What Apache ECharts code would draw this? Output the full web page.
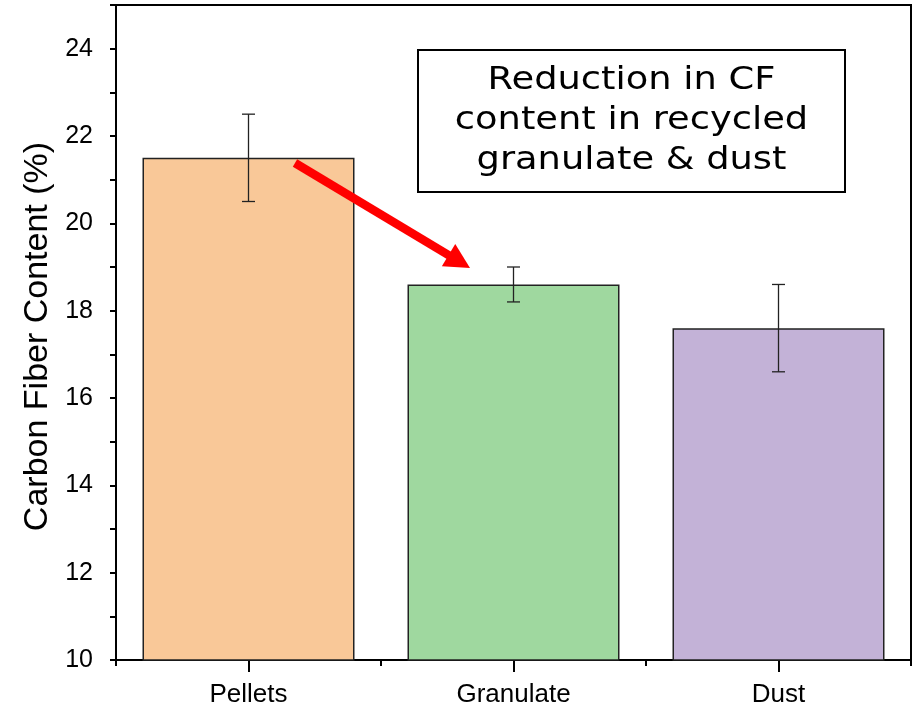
<!DOCTYPE html>
<html>
<head>
<meta charset="utf-8">
<script src="https://cdn.jsdelivr.net/npm/echarts@6/dist/echarts.min.js"></script>
<style>
  html, body { margin: 0; padding: 0; background: #fff; }
  #chart { width: 916px; height: 711px; }
</style>
</head>
<body>
<div id="chart"></div>
<script>
// Sample categories and measured carbon fiber content
const categories = ['Pellets', 'Granulate', 'Dust'];
const meanValues = [21.5, 18.6, 17.6];
const errLow = [20.5, 18.2, 16.6];
const errHigh = [22.5, 19.0, 18.6];
const barColors = ['#F9C898', '#9FD89F', '#C3B2D7'];
const yTicks = [10, 12, 14, 16, 18, 20, 22, 24];

const FONT = '"Liberation Sans", Arial, sans-serif';
const chart = echarts.init(document.getElementById('chart'), null, { renderer: 'canvas' });

const grid = { left: 116, top: 5, right: 5, bottom: 51 };

// Red arrow from the Pellets bar towards the Granulate bar
function arrowGraphics() {
  const x0 = 295, y0 = 163, x1 = 470, y1 = 268;
  const dx = x1 - x0, dy = y1 - y0, len = Math.hypot(dx, dy);
  const ux = dx / len, uy = dy / len, px = -uy, py = ux;
  const headLen = 25, headHalf = 13;
  const bx = x1 - ux * headLen, by = y1 - uy * headLen;
  return [
    { type: 'line', z: 100, shape: { x1: x0, y1: y0, x2: bx + ux * 2, y2: by + uy * 2 },
      style: { stroke: '#FF0000', lineWidth: 8.5 } },
    { type: 'polygon', z: 100,
      shape: { points: [[x1, y1], [bx + px * headHalf, by + py * headHalf], [bx - px * headHalf, by - py * headHalf]] },
      style: { fill: '#FF0000' } }
  ];
}

const option = {
  animation: false,
  backgroundColor: '#fff',
  grid: Object.assign({ show: true, borderColor: '#000', borderWidth: 2, backgroundColor: 'transparent' }, grid),
  xAxis: [
    {
      type: 'category',
      data: categories,
      boundaryGap: true,
      axisLine: { lineStyle: { color: '#000', width: 2 } },
      axisTick: { show: true, alignWithLabel: true, interval: 0, length: 12, lineStyle: { color: '#000', width: 2 } },
      axisLabel: { color: '#000', fontSize: 26, fontFamily: FONT, margin: 22, interval: 0 }
    },
    {
      // Short ticks on the boundaries between categories
      type: 'category',
      data: categories,
      boundaryGap: true,
      position: 'bottom',
      axisLine: { show: false },
      axisTick: { show: true, alignWithLabel: false, interval: 0, length: 6, lineStyle: { color: '#000', width: 2 } },
      axisLabel: { show: false },
      splitLine: { show: false }
    }
  ],
  yAxis: [
    {
      type: 'value', min: 10, max: 25, interval: 2, position: 'left',
      name: 'Carbon Fiber Content (%)',
      nameLocation: 'middle', nameGap: 57, nameRotate: 90,
      nameTextStyle: { color: '#000', fontSize: 34, fontFamily: FONT, padding: [0, 8, 0, 0] },
      axisLine: { show: true, lineStyle: { color: '#000', width: 2 } },
      axisTick: { length: 12, lineStyle: { color: '#000', width: 2 }, customValues: yTicks },
      axisLabel: { color: '#000', fontSize: 25, fontFamily: FONT, margin: 23, customValues: yTicks },
      splitLine: { show: false }
    },
    {
      // Minor ticks every unit
      type: 'value', min: 10, max: 25, interval: 1, position: 'left', offset: 0,
      axisLine: { show: false },
      axisTick: { show: true, length: 6, lineStyle: { color: '#000', width: 2 } },
      axisLabel: { show: false },
      splitLine: { show: false }
    }
  ],
  series: [
    {
      type: 'bar',
      xAxisIndex: 0, yAxisIndex: 0,
      barWidth: '80%',
      data: meanValues.map((v, i) => ({ value: v, itemStyle: { color: barColors[i] } })),
      itemStyle: { borderColor: '#222', borderWidth: 1.5 },
      z: 2
    },
    {
      type: 'custom',
      xAxisIndex: 0, yAxisIndex: 0,
      z: 5,
      data: categories.map((c, i) => [i, errLow[i], errHigh[i]]),
      renderItem: function (params, api) {
        const lo = api.coord([api.value(0), api.value(1)]);
        const hi = api.coord([api.value(0), api.value(2)]);
        const cap = 6.5;
        const st = { stroke: '#222', lineWidth: 1.3 };
        return {
          type: 'group',
          children: [
            { type: 'line', shape: { x1: hi[0], y1: hi[1], x2: lo[0], y2: lo[1] }, style: st },
            { type: 'line', shape: { x1: hi[0] - cap, y1: hi[1], x2: hi[0] + cap, y2: hi[1] }, style: st },
            { type: 'line', shape: { x1: lo[0] - cap, y1: lo[1], x2: lo[0] + cap, y2: lo[1] }, style: st }
          ]
        };
      }
    }
  ],
  graphic: [
    { type: 'rect', z: 90, shape: { x: 418, y: 50, width: 427, height: 142 },
      style: { fill: '#fff', stroke: '#000', lineWidth: 2 } },
    { type: 'text', z: 91, x: 631.5, y: 121, scaleX: 1.15,
      style: { text: 'Reduction in CF\ncontent in recycled\ngranulate & dust',
        fill: '#000', font: '32px "DejaVu Sans", sans-serif', lineHeight: 40,
        align: 'center', verticalAlign: 'middle' } }
  ].concat(arrowGraphics())
};

chart.setOption(option);
</script>
</body>
</html>
